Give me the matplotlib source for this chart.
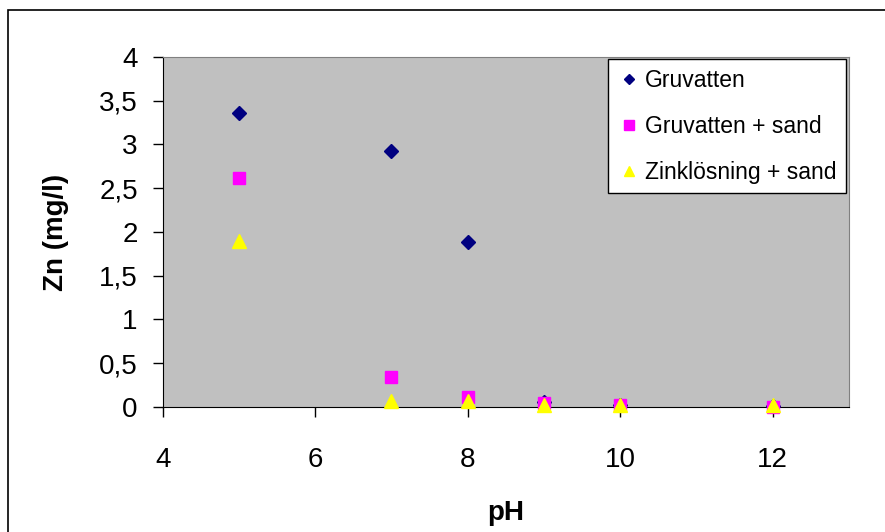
import matplotlib.pyplot as plt
from matplotlib.patches import Rectangle
from matplotlib.ticker import FuncFormatter, MultipleLocator

plt.rcParams["font.family"] = ["Liberation Sans", "DejaVu Sans"]

# pH values and zinc concentration (mg/l)
ph = [5, 7, 8, 9, 10, 12]
gruvatten = [3.36, 2.93, 1.88, 0.06, 0.02, 0.01]
gruvatten_sand = [2.62, 0.34, 0.11, 0.04, 0.02, 0.0]
zink_sand = [1.90, 0.07, 0.07, 0.02, 0.02, 0.02]

fig = plt.figure(figsize=(8.85, 5.32), dpi=100)
ax = fig.add_axes([0.184, 0.235, 0.775, 0.658])
ax.set_facecolor("#C0C0C0")

ax.plot(ph, gruvatten, ls="none", marker="D", ms=7.4, color="#000080",
        label="Gruvatten", clip_on=False, zorder=3)
ax.plot(ph, gruvatten_sand, ls="none", marker="s", ms=9.3, color="#FF00FF",
        label="Gruvatten + sand", clip_on=False, zorder=4)
ax.plot(ph, zink_sand, ls="none", marker="^", ms=9.8, color="#FFFF00",
        label="Zinklösning + sand", clip_on=False, zorder=5)

ax.set_xlim(4, 13)
ax.set_ylim(0, 4)
ax.xaxis.set_major_locator(MultipleLocator(2))
ax.yaxis.set_major_locator(MultipleLocator(0.5))
ax.yaxis.set_major_formatter(FuncFormatter(lambda v, p: f"{v:g}".replace(".", ",")))
ax.tick_params(direction="out", length=7, width=1, labelsize=20, colors="black")
ax.tick_params(axis="x", pad=22)
ax.tick_params(axis="y", pad=11)

for side in ("top", "right"):
    ax.spines[side].set_color("#808080")
for side in ("left", "bottom"):
    ax.spines[side].set_color("black")

ax.set_xlabel("pH", fontsize=20, fontweight="bold", labelpad=19)
ax.set_ylabel("Zn (mg/l)", fontsize=20, fontweight="bold", labelpad=22)

leg = ax.legend(loc="upper right", bbox_to_anchor=(1.0, 1.0), fontsize=16.5,
                frameon=True, fancybox=False, borderaxespad=0.1,
                handletextpad=0.2, handlelength=1.0, labelspacing=1.0,
                borderpad=0.42, markerscale=0.75)
leg.get_frame().set_edgecolor("black")
leg.get_frame().set_linewidth(1)
leg.get_frame().set_facecolor("white")
leg.get_frame().set_alpha(1)

fig.patches.append(Rectangle((8 / 885, -0.1), 1.0, 1 - 10 / 532 + 0.1,
                             transform=fig.transFigure, fill=False,
                             edgecolor="black", linewidth=1.2))

fig.savefig("out.png", dpi=100)
